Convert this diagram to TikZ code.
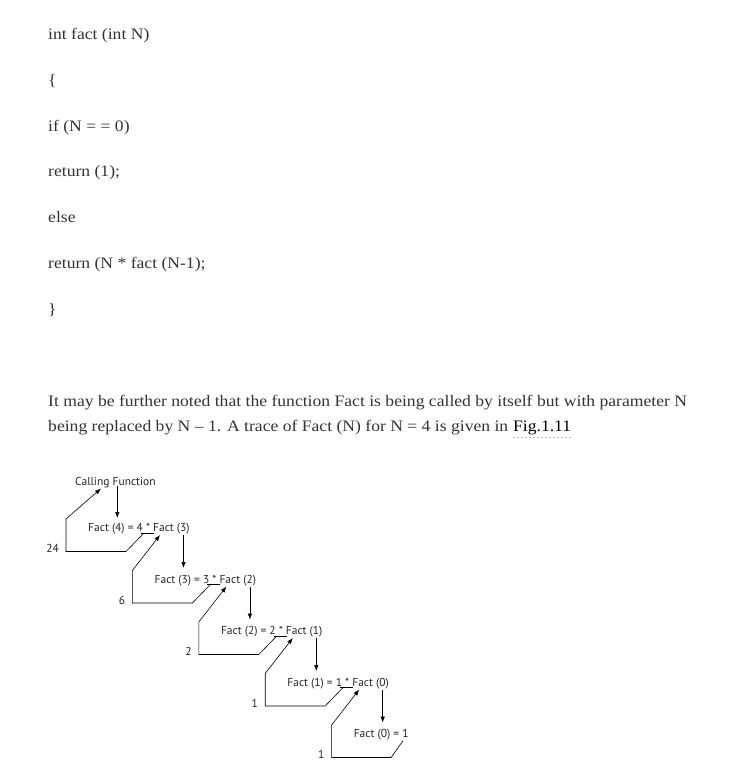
\documentclass[tikz,border=0pt]{standalone}
\usepackage{fontspec}
\setmainfont[FakeStretch=1.1]{Liberation Serif}
\newfontfamily\figfont{PT Sans}
\usetikzlibrary{calc,arrows.meta}
\tikzset{
  txt/.style={anchor=base west,inner sep=0pt,text=black!80,font=\fontsize{16}{19}\selectfont},
  fn/.style={anchor=base west,inner sep=0pt,text=black!85,font=\figfont\fontsize{11.5}{13}\selectfont},
  ret/.style={-{Latex[length=6pt,width=4.5pt]},line width=0.6pt},
}
\begin{document}
\begin{tikzpicture}[x=1pt,y=-1pt]
\pgfmathsetmacro{\dx}{66.4}
\pgfmathsetmacro{\dy}{51.5}
\useasboundingbox (0,0) rectangle (736,782);
% the code
\node[txt] (c1) at (48,39.3) {int fact (int N)};
\node[txt] (c2) at (48,85) {\{};
\node[txt] (c3) at (48,131) {if (N = = 0)};
\node[txt] (c4) at (48,176.5) {return (1);};
\node[txt] (c5) at (48,222) {else};
\node[txt] (c6) at (48,268.3) {return (N * fact (N-1);};
\node[txt] (c7) at (48,314) {\}};
% the text
\node[txt] (p1) at (48,406.7) {It may be further noted that the function Fact is being called by itself but with parameter N};
\node[txt] (p2) at (48,431.7) {being replaced by N -- 1. A trace of Fact (N) for N = 4 is given in};
\node[txt,text=black] (fig) at ([xshift=4.5pt]p2.base east) {Fig.1.11};
\draw[gray!55,dash pattern=on 2.5pt off 1.5pt] ($(fig.base west)+(0,5.5)$) -- ($(fig.base east)+(0,5.5)$);
% the trace
\node[fn] (call) at (75,485.5) {Calling Function};
\node[fn] (f4) at (88,531.5) {Fact (4) = 4 * Fact (3)};
\node[fn] (f3) at (88+\dx,531.5+\dy) {Fact (3) = 3 * Fact (2)};
\node[fn] (f2) at (88+2*\dx,531.5+2*\dy) {Fact (2) = 2 * Fact (1)};
\node[fn] (f1) at (88+3*\dx,531.5+3*\dy) {Fact (1) = 1 * Fact (0)};
\node[fn] (f0) at (88+4*\dx,531.5+4*\dy) {Fact (0) = 1};
\node[fn,anchor=base east] (v24) at ($(f4.base west)+(-29,21)$) {24};
\node[fn,anchor=base east] (v6) at ($(f3.base west)+(-29,21)$) {6};
\node[fn,anchor=base east] (v2) at ($(f2.base west)+(-29,21)$) {2};
\node[fn,anchor=base east] (v1) at ($(f1.base west)+(-29,21)$) {1};
\node[fn,anchor=base east] (v0) at ($(f0.base west)+(-29,21)$) {1};
% calls
\draw[ret] (call.base west) ++(42.3,0) -- ($(f4.base west)+(29.3,-13.5)$);
\draw[ret] (f4.base west) ++(95.5,3.5) -- ($(f3.base west)+(29.1,-15)$);
\draw[ret] (f3.base west) ++(95.5,3.5) -- ($(f2.base west)+(29.1,-15)$);
\draw[ret] (f2.base west) ++(95.5,3.5) -- ($(f1.base west)+(29.1,-15)$);
\draw[ret] (f1.base west) ++(95.5,3.5) -- ($(f0.base west)+(29.1,-15)$);
% returns
\draw[line width=0.6pt] (f4.base west) ++(53,1.5) -- ++(13,0);
\draw[line width=0.6pt] (f3.base west) ++(53,1.5) -- ++(13,0);
\draw[line width=0.6pt] (f2.base west) ++(53,1.5) -- ++(13,0);
\draw[line width=0.6pt] (f1.base west) ++(53,1.5) -- ++(13,0);
\draw[ret] (f4.base west) ++(56,1.5) -- ++(-18,18.5) -- ++(-60,0) -- ++(0,-32.5) -- ($(call.base west)+(26,3)$);
\draw[ret] (f3.base west) ++(56,1.5) -- ++(-18,18.5) -- ++(-60,0) -- ++(0,-32.5) -- ($(f4.base west)+(72,3.5)$);
\draw[ret] (f2.base west) ++(56,1.5) -- ++(-18,18.5) -- ++(-60,0) -- ++(0,-32.5) -- ($(f3.base west)+(72,3.5)$);
\draw[ret] (f1.base west) ++(56,1.5) -- ++(-18,18.5) -- ++(-60,0) -- ++(0,-32.5) -- ($(f2.base west)+(72,3.5)$);
\draw[ret] (f0.base west) ++(49.5,3) -- ++(-12,17) -- ++(-59.5,0) -- ++(0,-32.5) -- ($(f1.base west)+(72,3.5)$);
\end{tikzpicture}
\end{document}
